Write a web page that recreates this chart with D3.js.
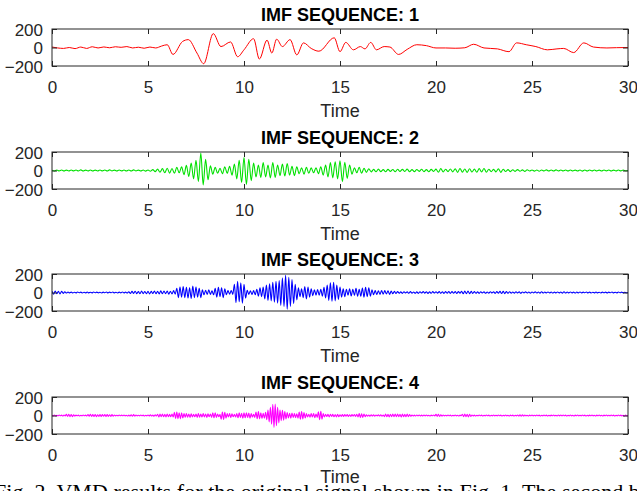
<!DOCTYPE html>
<html>
<head>
<meta charset="utf-8">
<script src="https://cdn.jsdelivr.net/npm/d3@7"></script>
<style>
  html, body { margin: 0; padding: 0; background: #fff; }
  svg { display: block; }
</style>
</head>
<body>
<svg id="chart" width="637" height="491"></svg>
<script>
// ---------------- DATA ----------------
const titles = ["IMF SEQUENCE: 1", "IMF SEQUENCE: 2", "IMF SEQUENCE: 3", "IMF SEQUENCE: 4"];
const colors = ["#ff0000", "#00e000", "#0000ff", "#ff00ff"];
const xTicks = [0, 5, 10, 15, 20, 25, 30];
const yTicks = [-200, 0, 200];
const xLabel = "Time";
const caption = "Fig. 2.   VMD results for the original signal shown in Fig. 1. The second bi";

// IMF 1: times and values read at turning points
const imf1T = [0,0.3,0.6,0.9,1.2,1.5,1.8,2.1,2.4,2.7,3.0,3.3,3.6,3.9,4.2,4.5,4.8,5.1,5.4,5.7,6.0,6.3,6.8,7.1,7.55,7.9,8.4,8.8,9.3,9.67,10.0,10.5,10.8,11.2,11.45,11.7,12.0,12.4,12.75,13.1,13.5,13.9,14.7,15.0,15.3,15.7,16.06,16.3,16.6,16.9,17.3,17.6,18.05,18.5,19.0,19.5,20.0,20.5,21.0,21.5,21.96,22.5,23.2,23.8,24.2,24.7,25.2,25.8,26.3,26.65,27.17,27.7,28.2,28.9,29.4,30];
const imf1V = [5,-5,-10,0,-12,5,-10,8,-5,6,-3,8,2,10,-5,3,-8,5,-5,15,30,-75,65,85,-60,-175,150,10,60,-100,-25,95,-125,80,-60,90,10,85,-80,50,-10,-40,105,-45,55,-25,10,-15,55,-25,10,5,-75,-20,30,20,-5,-5,-8,-3,35,-5,-15,-45,50,30,10,-25,-15,-10,-55,50,5,-5,-2,0];

// IMF 2: sampled every 1/8 s (one row per second)
const imf2Step = 1 / 8;
const imf2V = [
  4,-5,6,-4,5,-6,4,-5,
  6,-4,5,-5,7,-6,4,-5,
  5,-6,4,-5,6,-4,5,-6,
  7,-5,4,-6,5,-4,6,-5,
  5,-6,7,-5,4,-6,5,-7,
  6,-8,10,-12,15,-18,20,-24,
  25,-28,22,-30,35,-25,40,-45,
  55,-65,80,-90,110,-120,190,-155,
  120,-100,50,-40,35,-30,25,-35,
  40,-30,45,-50,70,-90,110,-130,
  140,-150,120,-110,80,-70,60,-75,
  85,-70,60,-80,85,-75,60,-55,
  70,-60,75,-50,45,-55,40,-35,
  30,-40,35,-30,28,-25,30,-35,
  40,-50,60,-70,85,-80,95,-90,
  105,-120,90,-85,60,-40,30,-25,
  35,-30,25,-20,18,-15,12,-14,
  15,-12,10,-14,12,-10,11,-13,
  14,-10,12,-11,15,-13,10,-12,
  11,-9,13,-12,10,-14,12,-10,
  15,-18,20,-16,14,-12,16,-15,
  18,-20,22,-18,16,-20,19,-17,
  15,-18,20,-16,22,-18,14,-12,
  12,-15,18,-20,14,-10,9,-12,
  8,-9,10,-8,7,-9,8,-6,
  6,-7,5,-8,6,-5,7,-6,
  5,-6,7,-5,6,-4,5,-6,
  6,-5,4,-6,5,-7,6,-5,
  5,-4,6,-5,4,-6,5,-4,
  5,-6,4,-5,6,-4,5,-3,
  0];

// IMF 3: sampled every 1/12 s (one row per second)
const imf3Step = 1 / 12;
const imf3V = [
  15,-18,16,-14,12,-15,13,-10,8,-6,5,-4,
  4,-5,3,-4,5,-3,4,-5,3,-4,5,-4,
  3,-4,5,-3,4,-4,3,-5,4,-3,5,-4,
  4,-3,5,-4,3,-5,4,-4,6,-5,4,-6,
  8,-10,12,-9,14,-12,10,-13,15,-12,11,-14,
  12,-15,13,-11,16,-14,12,-15,18,-14,16,-13,
  15,-18,14,-16,20,-18,45,-55,60,-50,65,-55,
  55,-60,50,-65,70,-55,60,-50,45,-55,30,-25,
  25,-20,28,-22,18,-25,45,-50,55,-45,50,-55,
  40,-25,20,-18,22,-20,90,-110,120,-100,105,-115,
  90,-60,25,-20,18,-22,20,-25,35,-40,50,-45,
  60,-70,80,-85,95,-90,110,-105,120,-115,130,-140,
  160,-150,185,-180,165,-150,140,-120,90,-80,50,-45,
  40,-55,65,-70,60,-50,40,-35,30,-28,32,-30,
  35,-40,55,-60,80,-85,105,-95,110,-90,80,-75,
  60,-50,40,-45,35,-30,40,-38,35,-30,45,-40,
  35,-40,48,-50,55,-45,50,-40,30,-25,20,-22,
  18,-20,22,-18,20,-16,18,-20,15,-14,12,-10,
  10,-8,7,-9,8,-6,7,-8,9,-7,6,-8,
  7,-9,8,-6,9,-7,8,-10,7,-8,9,-6,
  8,-7,10,-9,8,-10,9,-8,11,-9,10,-8,
  9,-11,10,-8,12,-14,15,-13,16,-14,12,-10,
  9,-8,7,-9,8,-6,7,-8,6,-7,8,-6,
  7,-9,10,-8,12,-11,13,-12,10,-9,8,-7,
  6,-7,8,-6,7,-8,6,-5,7,-6,5,-7,
  6,-5,7,-6,5,-7,8,-6,5,-4,6,-5,
  5,-6,4,-5,6,-4,5,-7,8,-6,5,-4,
  6,-5,4,-6,5,-4,6,-5,4,-3,5,-4,
  4,-5,3,-4,5,-4,3,-5,4,-3,4,-5,
  4,-3,5,-4,3,-4,5,-3,4,-4,3,-2,
  0];

// IMF 4: sampled every 1/16 s (one row per second)
const imf4Step = 1 / 16;
const imf4V = [
  5,-4,6,-5,3,-4,5,-3,4,-6,5,-4,12,-10,14,-12,
  10,-12,8,-6,4,-3,4,-5,3,-4,5,-3,4,-5,10,-8,
  12,-10,9,-11,10,-12,8,-10,11,-9,10,-8,9,-11,10,-9,
  8,-10,9,-7,5,-4,3,-4,5,-3,4,-3,5,-4,3,-5,
  4,-6,8,-7,9,-6,5,-4,3,-4,5,-3,4,-5,3,-4,
  6,-5,8,-6,5,-8,7,-6,14,-16,15,-13,16,-14,12,-15,
  16,-14,13,-12,15,-16,35,-32,38,-34,30,-36,30,-26,20,-18,
  20,-18,15,-20,18,-16,12,-14,17,-20,21,-18,16,-17,20,-15,
  17,-20,18,-14,16,-20,28,-25,30,-22,17,-14,12,-40,38,-42,
  35,-28,20,-17,20,-22,18,-14,13,-17,21,-25,28,-22,25,-30,
  28,-25,30,-22,26,-28,21,-17,14,-20,38,-35,42,-36,30,-33,
  25,-30,35,-45,60,-70,90,-95,120,-130,125,-110,90,-80,60,-55,
  55,-50,42,-38,32,-26,24,-28,26,-21,20,-24,19,-28,36,-40,
  42,-37,33,-26,20,-16,14,-18,21,-17,20,-24,16,-20,40,-45,
  45,-40,20,-16,14,-11,12,-15,13,-11,12,-14,11,-15,13,-12,
  8,-10,11,-9,10,-8,9,-11,8,-10,9,-7,10,-9,12,-15,
  20,-22,18,-20,15,-12,8,-7,6,-8,7,-6,8,-7,6,-5,
  7,-6,8,-7,5,-12,15,-14,13,-15,14,-12,15,-13,16,-14,
  15,-13,14,-16,15,-12,13,-14,15,-13,10,-8,6,-5,4,-5,
  5,-4,6,-5,4,-5,6,-4,5,-4,3,-5,4,-3,5,-4,
  12,-10,13,-11,8,-6,5,-4,3,-4,5,-3,4,-5,3,-4,
  5,-4,3,-5,4,-3,14,-12,15,-13,14,-15,12,-10,5,-4,
  4,-5,3,-4,5,-3,4,-5,3,-4,5,-3,4,-5,3,-4,
  5,-4,3,-4,5,-3,4,-5,3,-4,5,-4,3,-5,4,-3,
  4,-5,3,-4,5,-6,8,-7,8,-6,5,-4,3,-5,4,-3,
  5,-4,3,-4,5,-3,4,-5,3,-4,5,-3,4,-5,3,-4,
  4,-3,5,-4,3,-5,6,-5,6,-4,5,-3,4,-5,3,-4,
  5,-4,3,-5,4,-3,5,-4,3,-4,5,-3,4,-5,3,-4,
  4,-3,5,-4,3,-5,4,-3,5,-4,3,-5,4,-3,5,-4,
  3,-4,5,-3,4,-5,3,-4,5,-3,4,-4,3,-5,4,-3,
  0];

// ---------------- BUILD ----------------
const series = [
  imf1T.map((t, i) => ({ t, v: imf1V[i] })),
  imf2V.map((v, i) => ({ t: i * imf2Step, v })),
  imf3V.map((v, i) => ({ t: i * imf3Step, v })),
  imf4V.map((v, i) => ({ t: i * imf4Step, v }))
];

const svg = d3.select("#chart");
const left = 52, right = 628, plotH = 37;
const tops = [29, 152, 274, 397];
const axisColor = "#262626";
const sans = "'Liberation Sans', Arial, Helvetica, sans-serif";

const x = d3.scaleLinear().domain([0, 30]).range([left, right]);

series.forEach((data, k) => {
  const top = tops[k], bottom = top + plotH;
  const y = d3.scaleLinear().domain([-200, 200]).range([bottom, top]);
  const g = svg.append("g");

  const cid = "clip" + k;
  svg.append("clipPath").attr("id", cid)
    .append("rect").attr("x", left).attr("y", top).attr("width", right - left).attr("height", plotH);

  const line = d3.line().x(d => x(d.t)).y(d => y(d.v)).curve(d3.curveMonotoneX);
  g.append("path").datum(data)
    .attr("clip-path", `url(#${cid})`)
    .attr("d", line)
    .attr("fill", "none")
    .attr("stroke", colors[k])
    .attr("stroke-width", k === 0 ? 1 : 1.1);

  const xb = g.append("g").attr("transform", `translate(0,${bottom})`)
    .call(d3.axisBottom(x).tickValues(xTicks).tickSize(-5).tickPadding(15).tickFormat(d3.format("d")));
  const xt = g.append("g").attr("transform", `translate(0,${top})`)
    .call(d3.axisTop(x).tickValues(xTicks).tickSize(-5).tickFormat(""));
  const yl = g.append("g").attr("transform", `translate(${left},0)`)
    .call(d3.axisLeft(y).tickValues(yTicks).tickSize(-5).tickPadding(9).tickFormat(d3.format("d")));
  const yr = g.append("g").attr("transform", `translate(${right},0)`)
    .call(d3.axisRight(y).tickValues(yTicks).tickSize(-5).tickFormat(""));

  [xb, xt, yl, yr].forEach(a => {
    a.select(".domain").remove();
    a.selectAll("line").attr("stroke", axisColor).attr("stroke-width", 1);
    a.selectAll("text").attr("fill", axisColor).style("font-family", sans).style("font-size", "17px");
  });
  yl.selectAll("text").attr("dy", "0.36em");

  g.append("rect").attr("x", left).attr("y", top).attr("width", right - left).attr("height", plotH)
    .attr("fill", "none").attr("stroke", axisColor).attr("stroke-width", 1);

  g.append("text").attr("x", (left + right) / 2).attr("y", top - 8)
    .attr("text-anchor", "middle").attr("fill", "#000")
    .style("font-family", sans).style("font-size", "18px").style("font-weight", "bold")
    .text(titles[k]);

  g.append("text").attr("x", (left + right) / 2).attr("y", bottom + (k === 3 ? 49 : 51))
    .attr("text-anchor", "middle").attr("fill", axisColor)
    .style("font-family", sans).style("font-size", "18px")
    .text(xLabel);
});

// caption (cut off at the bottom edge like the reference)
svg.append("text").attr("x", -6).attr("y", 499)
  .attr("fill", "#000")
  .attr("textLength", 652)
  .attr("lengthAdjust", "spacing")
  .style("font-family", "'Liberation Serif', 'Times New Roman', serif")
  .style("font-size", "22px")
  .text(caption);
</script>
</body>
</html>
